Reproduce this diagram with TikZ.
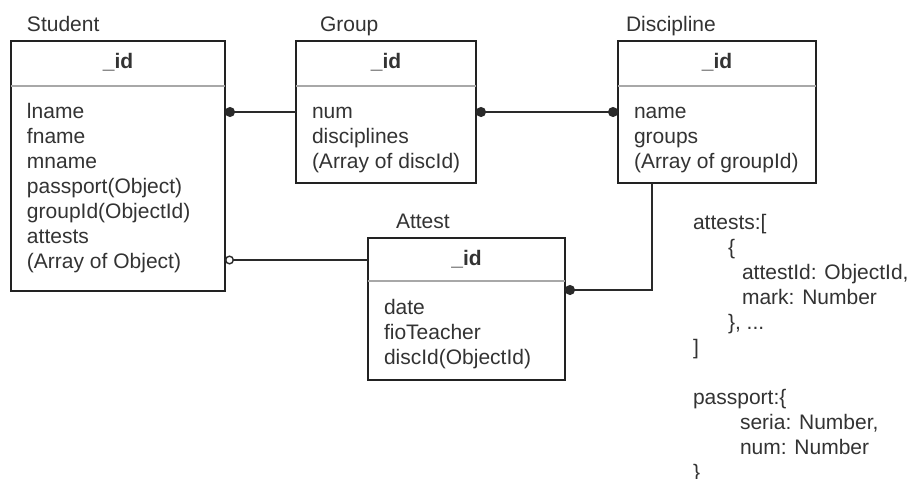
\documentclass[tikz,border=0pt]{standalone}
\usepackage{fontspec}
\setmainfont{Liberation Sans}
\usetikzlibrary{arrows.meta}
\definecolor{txt}{HTML}{333333}
\definecolor{edgec}{HTML}{222222}
\definecolor{sepc}{HTML}{A8A8A8}
\definecolor{connc}{HTML}{2A2A2A}
\tikzset{
  edot/.tip={Circle[length=10pt,width=10pt]},
  eodot/.tip={Circle[length=9pt,width=9pt,fill=white,line width=1.4pt]}
}
\begin{document}
\begin{tikzpicture}[x=1pt,y=-1pt,
  every node/.style={font=\fontsize{21}{25}\selectfont, text=txt, inner sep=0pt, outer sep=0pt},
  entity/.style={draw=edgec, line width=1.4pt, anchor=north west, rectangle},
  sepline/.style={draw=sepc, line width=1.4pt},
  idtext/.style={font=\fontsize{21}{25}\selectfont\bfseries, anchor=base},
  field/.style={anchor=base west},
  conn/.style={draw=connc, line width=1.4pt}
]
\clip (0,0) rectangle (908,479);
\fill[white] (0,0) rectangle (908,479);

% Student
\node[entity, minimum width=214pt, minimum height=250pt] (student) at (11,41) {};
\node[field] (studentT) at (27,31) {Student};
\draw[sepline] (11,86) -- (225,86);
\node[idtext] (studentId) at (118,68) {\_id};
\node[field] (s1) at (27,118) {lname};
\node[field] (s2) at (27,143) {fname};
\node[field] (s3) at (27,168) {mname};
\node[field] (s4) at (27,193) {passport(Object)};
\node[field] (s5) at (27,218) {groupId(ObjectId)};
\node[field] (s6) at (27,243) {attests};
\node[field] (s7) at (27,268) {(Array of Object)};

% Group
\node[entity, minimum width=180pt, minimum height=142pt] (group) at (296,41) {};
\node[field] (groupT) at (320,31) {Group};
\draw[sepline] (296,86) -- (476,86);
\node[idtext] (groupId) at (386,68) {\_id};
\node[field] (g1) at (312,118) {num};
\node[field] (g2) at (312,143) {disciplines};
\node[field] (g3) at (312,168) {(Array of discId)};

% Discipline
\node[entity, minimum width=198pt, minimum height=142pt] (disc) at (618,41) {};
\node[field] (discT) at (626,31) {Discipline};
\draw[sepline] (618,86) -- (816,86);
\node[idtext] (discId) at (717,68) {\_id};
\node[field] (d1) at (634,118) {name};
\node[field] (d2) at (634,143) {groups};
\node[field] (d3) at (634,168) {(Array of groupId)};

% Attest
\node[entity, minimum width=197pt, minimum height=142pt] (attest) at (368,238) {};
\node[field] (attestT) at (396,228) {Attest};
\draw[sepline] (368,281) -- (565,281);
\node[idtext] (attestId) at (466.5,265) {\_id};
\node[field] (a1) at (384,314) {date};
\node[field] (a2) at (384,339) {fioTeacher};
\node[field] (a3) at (384,364) {discId(ObjectId)};

% connectors
\coordinate (sa) at (0,260);
\coordinate (dx) at (652,290);
\draw[conn, {edot}-] (student.east |- group.west) -- (group.west);
\draw[conn, {edot}-{edot}] (group.east) -- (disc.west);
\draw[conn, -{edot}] (disc.south -| dx) |- (attest.east |- dx);
\draw[conn, {eodot}-] (student.east |- sa) -- (attest.west |- sa);

% notes
\node[field] (n1) at (693,229) {attests:[};
\node[field] (n2) at (728,254) {\{};
\node[field] (n3) at (742,279) {attestId: ObjectId,};
\node[field] (n4) at (742,304) {mark: Number};
\node[field] (n5) at (728,329) {\}, ...};
\node[field] (n6) at (693,354) {]};
\node[field] (n7) at (693,404) {passport:\{};
\node[field] (n8) at (740,429) {seria: Number,};
\node[field] (n9) at (740,454) {num: Number};
\node[field] (n10) at (693,479) {\}};
\end{tikzpicture}
\end{document}
